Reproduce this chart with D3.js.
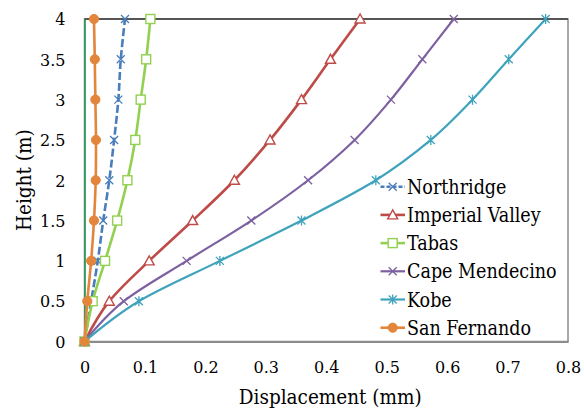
<!DOCTYPE html>
<html><head><meta charset="utf-8">
<script src="https://cdn.jsdelivr.net/npm/d3@7"></script>
<style>
html,body{margin:0;padding:0;background:#fff;}
svg{display:block;}
</style></head>
<body>
<svg id="chart" width="584" height="411"></svg>
<script>
const heights = [0, 0.5, 1, 1.5, 2, 2.5, 3, 3.5, 4];
const northridge = [0, 0.011, 0.022, 0.031, 0.041, 0.049, 0.056, 0.060, 0.067];
const imperialValley = [0, 0.041, 0.107, 0.179, 0.248, 0.307, 0.359, 0.407, 0.456];
const tabas = [0, 0.0135, 0.034, 0.054, 0.071, 0.084, 0.093, 0.102, 0.109];
const capeMendecino = [0, 0.065, 0.169, 0.276, 0.370, 0.447, 0.507, 0.559, 0.611];
const kobe = [0, 0.090, 0.224, 0.359, 0.482, 0.573, 0.642, 0.702, 0.763];
const sanFernando = [0, 0.0046, 0.011, 0.0157, 0.0185, 0.019, 0.018, 0.017, 0.0157];
const seriesNames = ["Northridge", "Imperial Valley", "Tabas", "Cape Mendecino", "Kobe", "San Fernando"];
const xTicks = [0, 0.1, 0.2, 0.3, 0.4, 0.5, 0.6, 0.7, 0.8];
const yTicks = [0, 0.5, 1, 1.5, 2, 2.5, 3, 3.5, 4];

const styles = [
  {color:"#4A7EBB", marker:"x", dash:"8,3", width:2.6},
  {color:"#BE4B48", marker:"tri", dash:null, width:2.6},
  {color:"#92D050", marker:"sq", dash:null, width:2.6},
  {color:"#7D60A0", marker:"x", dash:null, width:2.2},
  {color:"#3FA3BC", marker:"ast", dash:null, width:2.2},
  {color:"#E3853A", marker:"dot", dash:null, width:2.6}
];
const values = [northridge, imperialValley, tabas, capeMendecino, kobe, sanFernando];
const series = seriesNames.map((n,i)=>({name:n, pts:heights.map((h,j)=>({x:values[i][j], y:h})), st:styles[i]}));

const SERIF = "'DejaVu Serif'";
const COND = "'DejaVu Serif Condensed', 'DejaVu Serif'";
const svg = d3.select("#chart");
const x = d3.scaleLinear().domain([0,0.8]).range([84.5,568]);
const y = d3.scaleLinear().domain([0,4]).range([341.5,19]);

svg.append("rect").attr("x",x(0)).attr("y",y(4)).attr("width",x(0.8)-x(0)).attr("height",y(0)-y(4))
  .attr("fill","none").attr("stroke","#8c8c8c").attr("stroke-width",1.5);
svg.append("line").attr("x1",x(0)).attr("x2",x(0.8)).attr("y1",y(4)).attr("y2",y(4))
  .attr("stroke","#3a3a3a").attr("stroke-width",1.3);

const xa = svg.append("g").attr("transform",`translate(0,${y(0)})`)
  .call(d3.axisBottom(x).tickValues(xTicks).tickSize(0).tickFormat(d=>d3.format("")(d)));
xa.select(".domain").attr("stroke","#8c8c8c").attr("stroke-width",2);
xa.selectAll("text").attr("y",31.8).attr("dy",0).attr("font-size","16px")
  .style("font-family",SERIF);

const ya = svg.append("g").attr("transform",`translate(${x(0)},0)`)
  .call(d3.axisLeft(y).tickValues(yTicks).tickSize(0).tickFormat(d=>d3.format("")(d)));
ya.select(".domain").attr("stroke","#1E9A55").attr("stroke-width",1.6);
ya.selectAll("text").attr("x",-19).attr("dy","0.36em").attr("font-size","16px")
  .style("font-family",SERIF);

svg.append("text").attr("x",(x(0)+x(0.8))/2+4).attr("y",404).attr("text-anchor","middle")
  .style("font-family",COND).attr("font-size","20.5px").text("Displacement (mm)");
svg.append("text").attr("transform",`translate(31,${(y(0)+y(4))/2}) rotate(-90)`).attr("text-anchor","middle")
  .style("font-family",COND).attr("font-size","20.5px").text("Height (m)");

function drawMarker(g, type, color, cx, cy){
  if(type==="x"){
    const s=4;
    g.append("path").attr("d",`M${cx-s},${cy-s}L${cx+s},${cy+s}M${cx-s},${cy+s}L${cx+s},${cy-s}`)
      .attr("stroke",color).attr("stroke-width",1.3).attr("fill","none");
  } else if(type==="ast"){
    const s=4;
    g.append("path").attr("d",`M${cx-s},${cy-s}L${cx+s},${cy+s}M${cx-s},${cy+s}L${cx+s},${cy-s}M${cx},${cy-s-1}L${cx},${cy+s+1}`)
      .attr("stroke",color).attr("stroke-width",1.3).attr("fill","none");
  } else if(type==="tri"){
    const s=5;
    g.append("path").attr("d",`M${cx},${cy-s}L${cx+s},${cy+s*0.8}L${cx-s},${cy+s*0.8}Z`)
      .attr("stroke",color).attr("stroke-width",1.4).attr("fill","#fff");
  } else if(type==="sq"){
    const s=4.5;
    g.append("rect").attr("x",cx-s).attr("y",cy-s).attr("width",2*s).attr("height",2*s)
      .attr("stroke",color).attr("stroke-width",1.4).attr("fill","#fff");
  } else if(type==="dot"){
    g.append("circle").attr("cx",cx).attr("cy",cy).attr("r",4.6).attr("fill",color).attr("stroke",color);
  }
}

const line = d3.line().x(d=>x(d.x)).y(d=>y(d.y)).curve(d3.curveCatmullRom.alpha(0));
series.forEach(s=>{
  const g = svg.append("g");
  g.append("path").datum(s.pts).attr("d",line).attr("fill","none")
    .attr("stroke",s.st.color).attr("stroke-width",s.st.width)
    .attr("stroke-dasharray",s.st.dash);
  s.pts.forEach(p=>drawMarker(g, s.st.marker, s.st.color, x(p.x), y(p.y)));
});

const legY0 = 186.7, legStep = 28.2;
series.forEach((s,i)=>{
  const cy = legY0 + i*legStep;
  const g = svg.append("g");
  g.append("line").attr("x1",380.5).attr("x2",405).attr("y1",cy).attr("y2",cy)
    .attr("stroke",s.st.color).attr("stroke-width",s.st.width)
    .attr("stroke-dasharray",s.st.dash ? "4,2" : null);
  drawMarker(g, s.st.marker, s.st.color, 392.7, cy);
  g.append("text").attr("x",407).attr("y",cy+7).style("font-family",COND).attr("font-size","19.5px").text(s.name);
});
</script>
</body></html>
